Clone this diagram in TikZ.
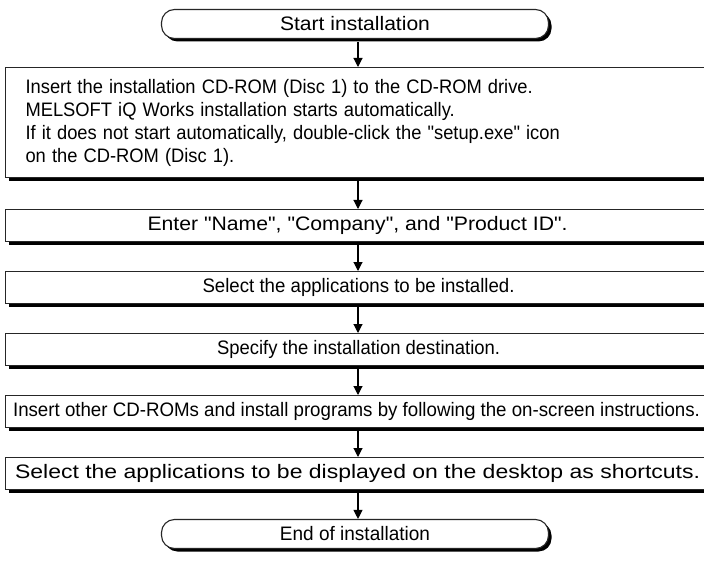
\documentclass[tikz,border=0pt]{standalone}
\usepackage{fontspec}
\usepackage{graphicx}
\newfontfamily\lib{Liberation Sans}
\usetikzlibrary{arrows.meta}
\newcommand\sw[2]{\resizebox{#1pt}{\height}{#2}}
\tikzset{
  box/.style={draw=black!85, line width=1.1pt, fill=white, inner sep=0pt,
    minimum width=706pt, anchor=north west,
    font=\lib\fontsize{19.5}{23}\selectfont},
  shadowed/.style={preaction={fill=black, transform canvas={shift={(3pt,-3pt)}}}},
  term/.style={draw=black!85, line width=1.1pt, fill=white, rounded corners=13pt,
    minimum width=387pt, minimum height=29pt, inner sep=0pt,
    font=\lib\fontsize{19.5}{23}\selectfont},
  arr/.style={line width=1.1pt, -{Triangle[length=9pt,width=9pt]}}
}
\begin{document}
\begin{tikzpicture}[x=1pt,y=-1pt]
\useasboundingbox (0,0) rectangle (704,588);
\fill[white] (0,0) rectangle (704,588);
\node[term, shadowed] (start) at (355,24) {\sw{150}{Start installation}};
\node[box, shadowed, minimum height=110pt, align=left, text width=690pt] (s1) at (5,67)
  {\hspace*{12pt}\scalebox{0.94}[1]{\parbox{680pt}{\raggedright
  Insert the installation CD-ROM (Disc 1) to the CD-ROM drive.\\
  MELSOFT iQ Works installation starts automatically.\\
  If it does not start automatically, double-click the "setup.exe" icon\\
  on the CD-ROM (Disc 1).}}};
\node[box, shadowed, minimum height=32pt] (s2) at (5,209) {\hspace*{-2pt}\sw{420}{Enter "Name", "Company", and "Product ID".}};
\node[box, shadowed, minimum height=32pt] (s3) at (5,271) {\sw{312}{Select the applications to be installed.}};
\node[box, shadowed, minimum height=32pt] (s4) at (5,333) {\sw{283}{Specify the installation destination.}};
\node[box, shadowed, minimum height=32pt] (s5) at (5,395) {\hspace*{-4pt}\sw{687}{Insert other CD-ROMs and install programs by following the on-screen instructions.}};
\node[box, shadowed, minimum height=32pt] (s6) at (5,457) {\hspace*{-2pt}\sw{685}{Select the applications to be displayed on the desktop as shortcuts.}};
\node[term, shadowed] (end) at (355,534) {\sw{150}{End of installation}};
\coordinate (ax) at (358,0);
\draw[arr] (start.south -| ax) ++(0,3) -- (s1.north -| ax);
\draw[arr] (s1.south -| ax) ++(0,3) -- (s2.north -| ax);
\draw[arr] (s2.south -| ax) ++(0,3) -- (s3.north -| ax);
\draw[arr] (s3.south -| ax) ++(0,3) -- (s4.north -| ax);
\draw[arr] (s4.south -| ax) ++(0,3) -- (s5.north -| ax);
\draw[arr] (s5.south -| ax) ++(0,3) -- (s6.north -| ax);
\draw[arr] (s6.south -| ax) ++(0,3) -- (end.north -| ax);
\end{tikzpicture}
\end{document}
